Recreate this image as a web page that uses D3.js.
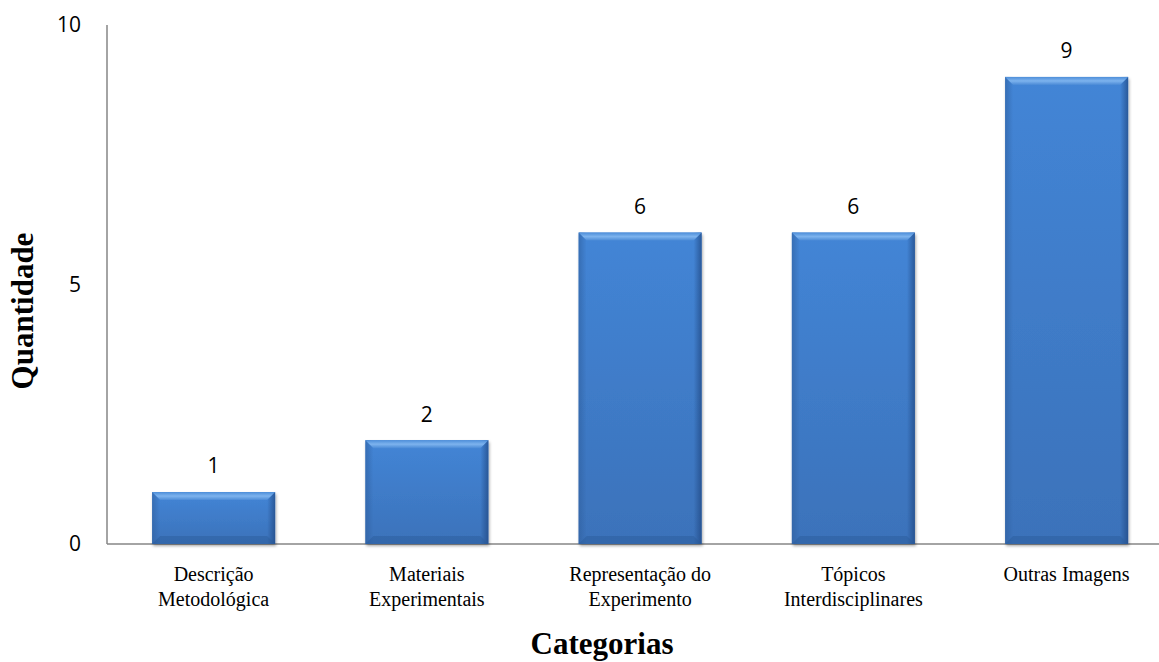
<!DOCTYPE html>
<html lang="pt">
<head>
<meta charset="UTF-8">
<title>Quantidade por Categoria</title>
<script src="https://d3js.org/d3.v7.min.js"></script>
<style>
  body { margin: 0; background: #fff; }
</style>
</head>
<body>
<svg class="canvas"></svg>
<script>
var categories = [
  ["Descrição", "Metodológica"],
  ["Materiais", "Experimentais"],
  ["Representação do", "Experimento"],
  ["Tópicos", "Interdisciplinares"],
  ["Outras Imagens"]
];
var values = [1, 2, 6, 6, 9];
var yTicks = [0, 5, 10];

var width = 1159, height = 662;
var mLeft = 107, mTop = 25, mBottom = 544;

var svg = d3.select("svg").attr("width", width).attr("height", height);

var x = d3.scaleBand().domain(d3.range(values.length))
    .range([mLeft, mLeft + 5 * 213.25]).paddingInner(0.423).paddingOuter(0.2115);
var y = d3.scaleLinear().domain([0, 10]).range([mBottom, mTop]);

var defs = svg.append("defs");
var g = defs.append("linearGradient").attr("id", "barFill")
    .attr("x1", "0%").attr("x2", "0%").attr("y1", "0%").attr("y2", "100%");
g.append("stop").attr("offset", "0%").attr("stop-color", "#4385d6");
g.append("stop").attr("offset", "100%").attr("stop-color", "#3b72ba");

var side = defs.append("linearGradient").attr("id", "sideL")
    .attr("x1", "0%").attr("x2", "100%");
side.append("stop").attr("offset", "0%").attr("stop-color", "#2f5f9e").attr("stop-opacity", 0.6);
side.append("stop").attr("offset", "100%").attr("stop-color", "#2f5f9e").attr("stop-opacity", 0);
var sideR = defs.append("linearGradient").attr("id", "sideR")
    .attr("x1", "100%").attr("x2", "0%");
sideR.append("stop").attr("offset", "0%").attr("stop-color", "#1f4680").attr("stop-opacity", 0.7);
sideR.append("stop").attr("offset", "100%").attr("stop-color", "#1f4680").attr("stop-opacity", 0);
var topG = defs.append("linearGradient").attr("id", "topB")
    .attr("x1", "0%").attr("x2", "0%").attr("y1", "0%").attr("y2", "100%");
topG.append("stop").attr("offset", "0%").attr("stop-color", "#4d8ed9");
topG.append("stop").attr("offset", "50%").attr("stop-color", "#7db3ee");
topG.append("stop").attr("offset", "100%").attr("stop-color", "#4a8ad6");

var shadow = defs.append("filter").attr("id", "shadow")
    .attr("x", "-10%").attr("y", "-10%").attr("width", "120%").attr("height", "120%");
shadow.append("feDropShadow").attr("dx", 1).attr("dy", 2).attr("stdDeviation", 1.5)
    .attr("flood-color", "#000").attr("flood-opacity", 0.35);

// axes
svg.append("line").attr("x1", mLeft).attr("x2", width).attr("y1", mBottom).attr("y2", mBottom)
    .attr("stroke", "#868686").attr("stroke-width", 1.5);
svg.append("line").attr("x1", mLeft).attr("x2", mLeft).attr("y1", mTop).attr("y2", mBottom)
    .attr("stroke", "#868686").attr("stroke-width", 1.5);

svg.selectAll(".ytick").data(yTicks).enter().append("text")
    .attr("x", 81).attr("y", function(d) { return y(d); })
    .attr("dy", "0.35em").attr("text-anchor", "end")
    .attr("font-family", "'Open Sans', sans-serif").attr("font-size", 21)
    .text(function(d) { return d; });

var bars = svg.selectAll(".bar").data(values).enter().append("g").attr("class", "bar");
var bw = x.bandwidth(), bev = 8;

bars.append("rect")
    .attr("x", function(d, i) { return x(i); }).attr("y", function(d) { return y(d); })
    .attr("width", bw).attr("height", function(d) { return mBottom - y(d); })
    .attr("fill", "url(#barFill)").attr("filter", "url(#shadow)");
bars.append("rect")
    .attr("x", function(d, i) { return x(i); }).attr("y", function(d) { return y(d); })
    .attr("width", bev).attr("height", function(d) { return mBottom - y(d); })
    .attr("fill", "url(#sideL)");
bars.append("rect")
    .attr("x", function(d, i) { return x(i) + bw - bev; }).attr("y", function(d) { return y(d); })
    .attr("width", bev).attr("height", function(d) { return mBottom - y(d); })
    .attr("fill", "url(#sideR)");
bars.append("polygon")
    .attr("points", function(d, i) {
      var x0 = x(i), y0 = y(d);
      return [[x0, y0], [x0 + bw, y0], [x0 + bw - bev, y0 + bev], [x0 + bev, y0 + bev]].join(" ");
    })
    .attr("fill", "url(#topB)");
bars.append("polygon")
    .attr("points", function(d, i) {
      var x0 = x(i);
      return [[x0, mBottom], [x0 + bw, mBottom], [x0 + bw - bev, mBottom - bev], [x0 + bev, mBottom - bev]].join(" ");
    })
    .attr("fill", "#2a5a98").attr("opacity", 0.45);

bars.append("text")
    .attr("x", function(d, i) { return x(i) + bw / 2; })
    .attr("y", function(d) { return y(d) - 26; })
    .attr("dy", "0.35em").attr("text-anchor", "middle")
    .attr("font-family", "'Open Sans', sans-serif").attr("font-size", 21)
    .text(function(d) { return d; });

// category labels
var cat = svg.selectAll(".cat").data(categories).enter().append("text")
    .attr("text-anchor", "middle")
    .attr("font-family", "'Liberation Serif', 'Times New Roman', serif").attr("font-size", 20)
    .attr("x", function(d, i) { return x(i) + bw / 2; })
    .attr("y", 581);
cat.selectAll("tspan").data(function(d) { return d; }).enter().append("tspan")
    .attr("x", function() { return d3.select(this.parentNode).attr("x"); })
    .attr("dy", function(d, i) { return i === 0 ? 0 : 25; })
    .text(function(d) { return d; });

svg.append("text").attr("x", 602).attr("y", 654).attr("text-anchor", "middle")
    .attr("font-family", "'Liberation Serif', 'Times New Roman', serif")
    .attr("font-size", 31).attr("font-weight", "bold").text("Categorias");

svg.append("text").attr("transform", "translate(33,311) rotate(-90)")
    .attr("text-anchor", "middle")
    .attr("font-family", "'Liberation Serif', 'Times New Roman', serif")
    .attr("font-size", 31).attr("font-weight", "bold").text("Quantidade");
</script>
</body>
</html>
